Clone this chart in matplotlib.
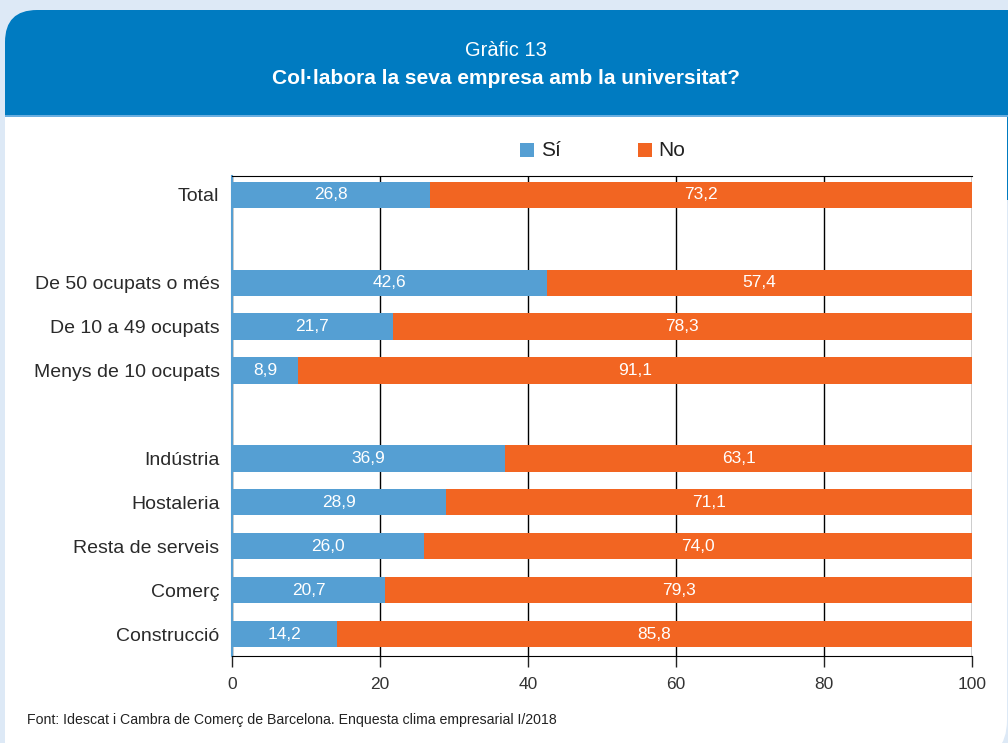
import matplotlib.pyplot as plt
from matplotlib.patches import FancyBboxPatch, Rectangle

categories = ["Total", "", "De 50 ocupats o més", "De 10 a 49 ocupats", "Menys de 10 ocupats", "",
              "Indústria", "Hostaleria", "Resta de serveis", "Comerç", "Construcció"]
si = [26.8, None, 42.6, 21.7, 8.9, None, 36.9, 28.9, 26.0, 20.7, 14.2]
no = [73.2, None, 57.4, 78.3, 91.1, None, 63.1, 71.1, 74.0, 79.3, 85.8]
xticks = [0, 20, 40, 60, 80, 100]

blue = "#559fd3"
orange = "#f26522"
header = "#007bc1"
bg = "#dde9f6"

W, H = 1008, 743
fig = plt.figure(figsize=(W / 100, H / 100), dpi=100)
fig.patch.set_facecolor(bg)

def box(x0, y0, x1, y1, color, rad=0, z=0):
    # pixel coords from top-left
    if rad:
        p = FancyBboxPatch((x0 / 100 + rad / 100, (H - y1) / 100 + rad / 100),
                           (x1 - x0 - 2 * rad) / 100, (y1 - y0 - 2 * rad) / 100,
                           boxstyle="round,pad=%f" % (rad / 100),
                           transform=fig.dpi_scale_trans, fc=color, ec="none", zorder=z)
    else:
        p = Rectangle((x0 / 100, (H - y1) / 100), (x1 - x0) / 100, (y1 - y0) / 100,
                      transform=fig.dpi_scale_trans, fc=color, ec="none", zorder=z)
    fig.add_artist(p)

box(-100, 60, 1007, 760, "white", rad=40, z=-4)
box(0, 0, 5, 743, bg, z=-3)
box(5, 10, 1100, 200, header, rad=32, z=-2)
box(5, 116, 1007, 700, "white", z=-1)
box(5, 115, 1008, 117, "#6aaee0", z=-1)

fig.text(506 / W, 1 - 50 / H, "Gràfic 13", color="white", ha="center", va="center",
         fontsize=14.5, family="Liberation Sans")
fig.text(506 / W, 1 - 78 / H, "Col·labora la seva empresa amb la universitat?", color="white",
         ha="center", va="center", fontsize=15, fontweight="bold", family="Liberation Sans")

ax = fig.add_axes([232 / W, 1 - 656 / H, 740 / W, 480 / H])
ax.set_facecolor("none")
pos = [i for i, v in enumerate(si) if v is not None]
s_vals = [si[i] for i in pos]
n_vals = [no[i] for i in pos]
ax.barh(pos, s_vals, height=0.6, color=blue, zorder=3)
ax.barh(pos, n_vals, left=s_vals, height=0.6, color=orange, zorder=3)

for p, s, n in zip(pos, s_vals, n_vals):
    ax.text(s / 2, p, ("%.1f" % s).replace(".", ","), color="white", ha="center", va="center",
            fontsize=12.5, family="Liberation Sans", zorder=4)
    ax.text(s + n / 2, p, ("%.1f" % n).replace(".", ","), color="white", ha="center", va="center",
            fontsize=12.5, family="Liberation Sans", zorder=4)

ax.set_xlim(0, 100)
ax.set_ylim(10.5, -0.43)
ax.set_yticks(pos)
ax.set_yticklabels([categories[i] for i in pos], fontsize=14, family="Liberation Sans", color="#2a2a2a")
ax.tick_params(axis="y", length=0, pad=9)
ax.set_xticks(xticks)
ax.set_xticklabels([str(x) for x in xticks], fontsize=12.5, family="Liberation Sans", color="#333333")
ax.tick_params(axis="x", length=8, width=1, pad=7, color="#222222")
ax.grid(axis="x", color="black", lw=1, zorder=1)
ax.spines["right"].set_visible(False)
ax.spines["top"].set_color("black")
ax.spines["bottom"].set_color("black")
ax.spines["left"].set_color(blue)
ax.spines["left"].set_linewidth(1.5)

# legend
fig.patches.append(Rectangle((520 / W, 1 - 157 / H), 14 / W, 14 / H, transform=fig.transFigure,
                             fc=blue, ec="none", figure=fig))
fig.text(541 / W, 1 - 150 / H, "Sí", fontsize=15, va="center", family="Liberation Sans", color="#222222")
fig.patches.append(Rectangle((638 / W, 1 - 157 / H), 14 / W, 14 / H, transform=fig.transFigure,
                             fc=orange, ec="none", figure=fig))
fig.text(658 / W, 1 - 150 / H, "No", fontsize=15, va="center", family="Liberation Sans", color="#222222")

fig.text(27 / W, 1 - 720 / H, "Font: Idescat i Cambra de Comerç de Barcelona. Enquesta clima empresarial I/2018",
         fontsize=10.2, va="center", family="Liberation Sans", color="#222222")

fig.savefig("out.png", dpi=100, facecolor=bg)
